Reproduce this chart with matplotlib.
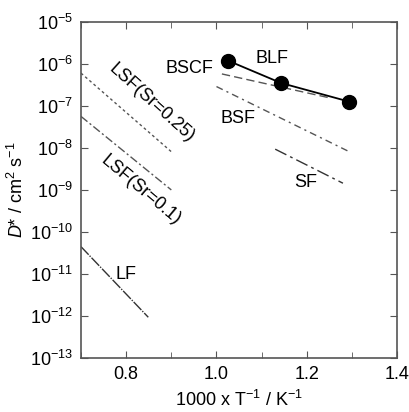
import numpy as np
import matplotlib
matplotlib.use('Agg')
import matplotlib.pyplot as plt
from matplotlib.ticker import LogLocator, MultipleLocator, NullLocator

plt.rcParams['font.family'] = ['Liberation Sans', 'DejaVu Sans']
plt.rcParams['mathtext.fontset'] = 'custom'
plt.rcParams['mathtext.rm'] = 'Liberation Sans'
plt.rcParams['mathtext.it'] = 'Liberation Sans:italic'

#%% data
blf_x = [1.025, 1.143, 1.294]
blf_d = [1.2e-6, 3.5e-7, 1.26e-7]

bscf_x = [1.012, 1.255]
bscf_d = [10**-6.24, 10**-6.82]

bsf_x = [1.0, 1.294]
bsf_d = [10**-6.54, 10**-8.09]

sf_x = [1.13, 1.28]
sf_d = [10**-8.03, 10**-8.84]

lsf25_x = [0.7, 0.901]
lsf25_d = [10**-6.22, 10**-8.10]

lsf10_x = [0.7, 0.9]
lsf10_d = [10**-7.25, 10**-9.0]

lf_x = [0.7, 0.849]
lf_d = [10**-10.35, 10**-12.03]

#%% plot
fig = plt.figure(figsize=(4.09, 4.12), dpi=100)
ax = fig.add_axes([0.198, 0.131, 0.773, 0.816])

grey = '#555555'
ax.plot(lsf25_x, lsf25_d, color=grey, lw=1.0, ls=(0, (2, 2)))
ax.plot(lsf10_x, lsf10_d, color=grey, lw=1.0, ls=(0, (6, 2, 1.5, 2)))
ax.plot(lf_x, lf_d, color='#333333', lw=1.0, ls=(0, (8, 1, 1, 1)))
ax.plot(bscf_x, bscf_d, color=grey, lw=1.0, ls=(0, (6, 3)))
ax.plot(bsf_x, bsf_d, color=grey, lw=1.0, ls=(0, (5, 3, 1.5, 3)))
ax.plot(sf_x, sf_d, color='#333333', lw=1.0, ls=(0, (9, 3, 2, 3)))
ax.plot(blf_x, blf_d, 'k-', lw=1.3, marker='o', ms=10)

ax.set_yscale('log')
ax.set_xlim(0.7, 1.4)
ax.set_ylim(1e-13, 1e-5)
ax.xaxis.set_major_locator(MultipleLocator(0.2))
ax.xaxis.set_minor_locator(MultipleLocator(0.1))
ax.yaxis.set_major_locator(LogLocator(base=10, numticks=20))
ax.yaxis.set_minor_locator(NullLocator())
ax.set_xticks([0.8, 1.0, 1.2, 1.4])
ax.set_xticklabels(['0.8', '1.0', '1.2', '1.4'])

ax.tick_params(which='both', direction='in', top=True, right=True,
               color=grey, labelsize=13, pad=6)
ax.tick_params(which='major', length=5)
ax.tick_params(which='minor', length=4)
for s in ax.spines.values():
    s.set_color(grey)
    s.set_linewidth(1.2)

ax.set_xlabel('1000 x T$^{-1}$ / K$^{-1}$', fontsize=13, labelpad=5)
ax.set_ylabel('$D$* / cm$^2$ s$^{-1}$', fontsize=13, labelpad=2)

fs = 13
ax.text(0.941, 10**-6.10, 'BSCF', fontsize=fs, ha='center', va='center')
ax.text(1.123, 10**-5.88, 'BLF', fontsize=fs, ha='center', va='center')
ax.text(1.048, 10**-7.29, 'BSF', fontsize=fs, ha='center', va='center')
ax.text(1.198, 10**-8.83, 'SF', fontsize=fs, ha='center', va='center')
ax.text(0.857, 10**-6.93, 'LSF(Sr=0.25)', fontsize=fs, ha='center', va='center', rotation=-42)
ax.text(0.833, 10**-9.0, 'LSF(Sr=0.1)', fontsize=fs, ha='center', va='center', rotation=-40)
ax.text(0.800, 10**-11.02, 'LF', fontsize=fs, ha='center', va='center')

fig.savefig('out.png', dpi=100)
